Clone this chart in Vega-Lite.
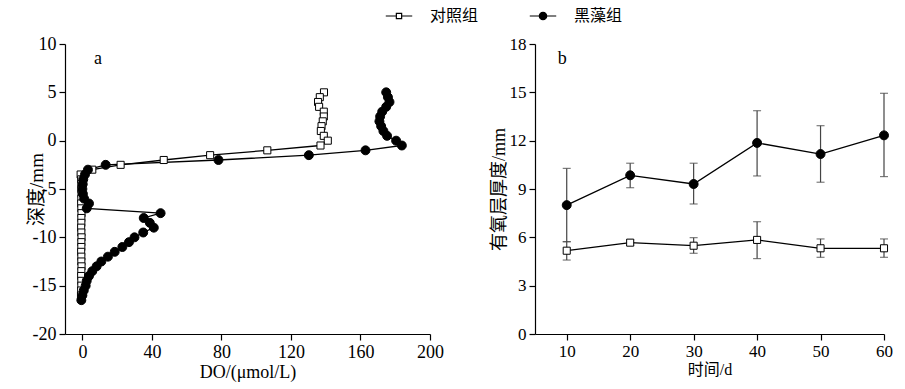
{
  "$schema": "https://vega.github.io/schema/vega-lite/v6.json",
  "background": "white",
  "padding": {"left": 27, "top": 2, "right": 5, "bottom": 5},
  "config": {
    "view": {"stroke": null},
    "font": "Liberation Serif",
    "axis": {
      "domainColor": "black", "domainWidth": 1.2, "tickColor": "black", "tickWidth": 1.2,
      "labelColor": "black", "titleColor": "black", "labelFont": "Liberation Serif",
      "labelFontSize": 17, "titleFont": "Liberation Serif, Noto Sans CJK SC",
      "titleFontSize": 17, "titleFontWeight": "normal", "grid": false, "labelPadding": 3,
      "labelOverlap": false, "labelFlush": false, "tickSize": 6
    }
  },
  "datasets": {
    "profile": [
      {"group": "对照组", "depth": 5, "do": 139.0},
      {"group": "对照组", "depth": 4.5, "do": 136.6},
      {"group": "对照组", "depth": 4, "do": 135.6},
      {"group": "对照组", "depth": 3.5, "do": 136.2},
      {"group": "对照组", "depth": 3, "do": 138.9},
      {"group": "对照组", "depth": 2.5, "do": 138.9},
      {"group": "对照组", "depth": 2, "do": 138.3},
      {"group": "对照组", "depth": 1.5, "do": 137.6},
      {"group": "对照组", "depth": 1, "do": 137.2},
      {"group": "对照组", "depth": 0.5, "do": 138.9},
      {"group": "对照组", "depth": 0, "do": 141.2},
      {"group": "对照组", "depth": -0.5, "do": 137.0},
      {"group": "对照组", "depth": -1, "do": 106.4},
      {"group": "对照组", "depth": -1.5, "do": 73.5},
      {"group": "对照组", "depth": -2, "do": 46.8},
      {"group": "对照组", "depth": -2.5, "do": 22.0},
      {"group": "对照组", "depth": -3, "do": 5.7},
      {"group": "对照组", "depth": -3.5, "do": -1.0},
      {"group": "对照组", "depth": -4, "do": -0.7},
      {"group": "对照组", "depth": -4.5, "do": -0.6},
      {"group": "对照组", "depth": -5, "do": -0.6},
      {"group": "对照组", "depth": -5.5, "do": -0.5},
      {"group": "对照组", "depth": -6, "do": -0.6},
      {"group": "对照组", "depth": -6.5, "do": -0.7},
      {"group": "对照组", "depth": -7, "do": -0.6},
      {"group": "对照组", "depth": -7.5, "do": -0.5},
      {"group": "对照组", "depth": -8, "do": -0.6},
      {"group": "对照组", "depth": -8.5, "do": -0.6},
      {"group": "对照组", "depth": -9, "do": -0.7},
      {"group": "对照组", "depth": -9.5, "do": -0.6},
      {"group": "对照组", "depth": -10, "do": -0.5},
      {"group": "对照组", "depth": -10.5, "do": -0.6},
      {"group": "对照组", "depth": -11, "do": -0.6},
      {"group": "对照组", "depth": -11.5, "do": -0.7},
      {"group": "对照组", "depth": -12, "do": -0.6},
      {"group": "对照组", "depth": -12.5, "do": -0.6},
      {"group": "对照组", "depth": -13, "do": -0.5},
      {"group": "对照组", "depth": -13.5, "do": -0.6},
      {"group": "对照组", "depth": -14, "do": -0.7},
      {"group": "对照组", "depth": -14.5, "do": -0.6},
      {"group": "对照组", "depth": -15, "do": -0.6},
      {"group": "对照组", "depth": -15.5, "do": -0.7},
      {"group": "对照组", "depth": -16, "do": -0.8},
      {"group": "黑藻组", "depth": 5, "do": 174.8},
      {"group": "黑藻组", "depth": 4.5, "do": 175.8},
      {"group": "黑藻组", "depth": 4, "do": 176.7},
      {"group": "黑藻组", "depth": 3.5, "do": 174.8},
      {"group": "黑藻组", "depth": 3, "do": 172.5},
      {"group": "黑藻组", "depth": 2.5, "do": 171.3},
      {"group": "黑藻组", "depth": 2, "do": 170.9},
      {"group": "黑藻组", "depth": 1.5, "do": 171.9},
      {"group": "黑藻组", "depth": 1, "do": 173.2},
      {"group": "黑藻组", "depth": 0.5, "do": 175.3},
      {"group": "黑藻组", "depth": 0, "do": 180.5},
      {"group": "黑藻组", "depth": -0.5, "do": 183.8},
      {"group": "黑藻组", "depth": -1, "do": 162.9},
      {"group": "黑藻组", "depth": -1.5, "do": 130.3},
      {"group": "黑藻组", "depth": -2, "do": 78.3},
      {"group": "黑藻组", "depth": -2.5, "do": 13.4},
      {"group": "黑藻组", "depth": -3, "do": 3.2},
      {"group": "黑藻组", "depth": -3.5, "do": 1.5},
      {"group": "黑藻组", "depth": -4, "do": 0.5},
      {"group": "黑藻组", "depth": -4.5, "do": 0.2},
      {"group": "黑藻组", "depth": -5, "do": 0.0},
      {"group": "黑藻组", "depth": -5.5, "do": 0.3},
      {"group": "黑藻组", "depth": -6, "do": 1.0},
      {"group": "黑藻组", "depth": -6.5, "do": 3.8},
      {"group": "黑藻组", "depth": -7, "do": 2.5},
      {"group": "黑藻组", "depth": -7.5, "do": 45.0},
      {"group": "黑藻组", "depth": -8, "do": 35.3},
      {"group": "黑藻组", "depth": -8.5, "do": 38.8},
      {"group": "黑藻组", "depth": -9, "do": 41.1},
      {"group": "黑藻组", "depth": -9.5, "do": 35.0},
      {"group": "黑藻组", "depth": -10, "do": 30.0},
      {"group": "黑藻组", "depth": -10.5, "do": 26.8},
      {"group": "黑藻组", "depth": -11, "do": 23.0},
      {"group": "黑藻组", "depth": -11.5, "do": 18.6},
      {"group": "黑藻组", "depth": -12, "do": 14.7},
      {"group": "黑藻组", "depth": -12.5, "do": 10.9},
      {"group": "黑藻组", "depth": -13, "do": 8.2},
      {"group": "黑藻组", "depth": -13.5, "do": 5.7},
      {"group": "黑藻组", "depth": -14, "do": 3.8},
      {"group": "黑藻组", "depth": -14.5, "do": 2.5},
      {"group": "黑藻组", "depth": -15, "do": 1.9},
      {"group": "黑藻组", "depth": -15.5, "do": 0.8},
      {"group": "黑藻组", "depth": -16, "do": 0.0},
      {"group": "黑藻组", "depth": -16.5, "do": -0.6}
    ],
    "thickness": [
      {"group": "对照组", "day": 10, "mean": 5.17, "lo": 4.59, "hi": 5.73},
      {"group": "对照组", "day": 20, "mean": 5.67, "lo": 5.5, "hi": 5.85},
      {"group": "对照组", "day": 30, "mean": 5.48, "lo": 5.01, "hi": 5.98},
      {"group": "对照组", "day": 40, "mean": 5.84, "lo": 4.68, "hi": 6.97},
      {"group": "对照组", "day": 50, "mean": 5.32, "lo": 4.76, "hi": 5.9},
      {"group": "对照组", "day": 60, "mean": 5.32, "lo": 4.76, "hi": 5.9},
      {"group": "黑藻组", "day": 10, "mean": 8.0, "lo": 5.73, "hi": 10.28},
      {"group": "黑藻组", "day": 20, "mean": 9.85, "lo": 9.08, "hi": 10.6},
      {"group": "黑藻组", "day": 30, "mean": 9.31, "lo": 8.07, "hi": 10.6},
      {"group": "黑藻组", "day": 40, "mean": 11.86, "lo": 9.81, "hi": 13.86},
      {"group": "黑藻组", "day": 50, "mean": 11.17, "lo": 9.42, "hi": 12.93},
      {"group": "黑藻组", "day": 60, "mean": 12.33, "lo": 9.77, "hi": 14.94}
    ]
  },
  "spacing": 46,
  "hconcat": [
    {
      "width": 365, "height": 290,
      "layer": [
        {
          "data": {"name": "profile"},
          "mark": {"type": "line", "color": "black", "strokeWidth": 1.3},
          "encoding": {
            "x": {"field": "do", "type": "quantitative",
              "scale": {"domain": [-10, 200], "nice": false, "zero": false},
              "axis": {"title": "DO/(μmol/L)", "titleFontSize": 18, "labelFontSize": 18,
                "values": [0,10,20,30,40,50,60,70,80,90,100,110,120,130,140,150,160,170,180,190,200],
                "labelExpr": "datum.value % 20 === 0 ? '' + datum.value : ''",
                "labelOverlap": false,
                "tickSize": {"condition": {"test": "datum.value % 20 !== 0", "value": 3}, "value": 6},
                "titlePadding": 2}},
            "y": {"field": "depth", "type": "quantitative",
              "scale": {"domain": [-20, 10], "nice": false, "zero": false},
              "axis": {"title": "深度/mm", "titleFontSize": 19, "labelFontSize": 18,
                "values": [-20,-17.5,-15,-12.5,-10,-7.5,-5,-2.5,0,2.5,5,7.5,10],
                "labelExpr": "datum.value % 5 === 0 ? '' + datum.value : ''",
                "labelOverlap": false,
                "tickSize": {"condition": {"test": "datum.value % 5 !== 0", "value": 3}, "value": 6},
                "titlePadding": -14}},
            "detail": {"field": "group"},
            "order": {"field": "depth", "sort": "descending"}
          }
        },
        {
          "data": {"name": "profile"},
          "transform": [{"filter": "datum.group === '对照组'"}],
          "mark": {"type": "point", "shape": "square", "filled": true, "fill": "white", "stroke": "black", "strokeWidth": 1, "opacity": 1, "size": 50},
          "encoding": {
            "x": {"field": "do", "type": "quantitative"},
            "y": {"field": "depth", "type": "quantitative"}
          }
        },
        {
          "data": {"name": "profile"},
          "transform": [{"filter": "datum.group === '黑藻组'"}],
          "mark": {"type": "point", "shape": "circle", "filled": true, "fill": "black", "stroke": "black", "strokeWidth": 1, "opacity": 1, "size": 80},
          "encoding": {
            "x": {"field": "do", "type": "quantitative"},
            "y": {"field": "depth", "type": "quantitative"}
          }
        },
        {
          "data": {"name": "thickness"},
          "transform": [{"filter": "datum.day < 0"}],
          "mark": {"type": "point", "filled": true, "strokeWidth": 1.2, "opacity": 1},
          "encoding": {
            "fill": {"field": "group", "type": "nominal",
              "scale": {"domain": ["对照组", "黑藻组"], "range": ["white", "black"]},
              "legend": {"title": null, "orient": "none", "legendX": 320, "legendY": -42, "direction": "horizontal",
                "symbolSize": 700, "symbolStrokeColor": "black", "symbolStrokeWidth": 1.2,
                "labelFont": "Liberation Serif, Noto Sans CJK SC", "labelFontSize": 16,
                "labelColor": "black", "columnPadding": 48, "labelOffset": 17}},
            "stroke": {"field": "group", "type": "nominal",
              "scale": {"domain": ["对照组", "黑藻组"], "range": ["black", "black"]},
              "legend": {"title": null, "orient": "none", "legendX": 320, "legendY": -42, "direction": "horizontal",
                "symbolSize": 700, "symbolStrokeColor": "black", "symbolStrokeWidth": 1.2,
                "labelFont": "Liberation Serif, Noto Sans CJK SC", "labelFontSize": 16,
                "labelColor": "black", "columnPadding": 48, "labelOffset": 17}},
            "size": {"field": "group", "type": "nominal",
              "scale": {"domain": ["对照组", "黑藻组"], "range": [700, 700]},
              "legend": {"title": null, "orient": "none", "legendX": 320, "legendY": -42, "direction": "horizontal",
                "symbolSize": 700, "symbolStrokeColor": "black", "symbolStrokeWidth": 1.2,
                "labelFont": "Liberation Serif, Noto Sans CJK SC", "labelFontSize": 16,
                "labelColor": "black", "columnPadding": 48, "labelOffset": 17}},
            "shape": {"field": "group", "type": "nominal",
              "scale": {"domain": ["对照组", "黑藻组"],
                "range": ["M-1,0H-0.2M0.2,0H1M-0.2,-0.2H0.2V0.2H-0.2Z", "M-1,0H1M-0.28,0A0.28,0.28 0 1,1 0.28,0A0.28,0.28 0 1,1 -0.28,0Z"]},
              "legend": {"title": null, "orient": "none", "legendX": 320, "legendY": -42, "direction": "horizontal",
                "symbolSize": 700, "symbolStrokeColor": "black", "symbolStrokeWidth": 1.2,
                "labelFont": "Liberation Serif, Noto Sans CJK SC", "labelFontSize": 16,
                "labelColor": "black", "columnPadding": 48, "labelOffset": 17}}
          }
        },
        {
          "data": {"values": [{}]},
          "mark": {"type": "text", "font": "Liberation Serif", "fontSize": 18, "color": "black"},
          "encoding": {"x": {"datum": 9}, "y": {"datum": 8.4}, "text": {"value": "a"}}
        }
      ]
    },
    {
      "width": 349, "height": 290,
      "layer": [
        {
          "data": {"name": "thickness"},
          "mark": {"type": "errorbar", "color": "#444", "ticks": {"size": 8, "color": "#444"}, "thickness": 1.2},
          "encoding": {
            "x": {"field": "day", "type": "quantitative",
              "scale": {"domain": [5, 60], "nice": false, "zero": false},
              "axis": {"title": "时间/d", "titleFontSize": 16,
                "values": [10,15,20,25,30,35,40,45,50,55,60],
                "labelExpr": "datum.value % 10 === 0 ? '' + datum.value : ''",
                "labelOverlap": false,
                "tickSize": {"condition": {"test": "datum.value % 10 !== 0", "value": 3}, "value": 6},
                "titlePadding": 2}},
            "y": {"field": "lo", "type": "quantitative",
              "scale": {"domain": [0, 18], "nice": false},
              "axis": {"title": "有氧层厚度/mm", "titleFontSize": 18,
                "values": [0,1.5,3,4.5,6,7.5,9,10.5,12,13.5,15,16.5,18],
                "labelExpr": "datum.value % 3 === 0 ? '' + datum.value : ''",
                "labelOverlap": false,
                "tickSize": {"condition": {"test": "datum.value % 3 !== 0", "value": 3}, "value": 6},
                "titlePadding": 1}},
            "y2": {"field": "hi"},
            "detail": {"field": "group"}
          }
        },
        {
          "data": {"name": "thickness"},
          "mark": {"type": "line", "color": "black", "strokeWidth": 1.3},
          "encoding": {
            "x": {"field": "day", "type": "quantitative"},
            "y": {"field": "mean", "type": "quantitative"},
            "detail": {"field": "group"}
          }
        },
        {
          "data": {"name": "thickness"},
          "transform": [{"filter": "datum.group === '对照组'"}],
          "mark": {"type": "point", "shape": "square", "filled": true, "fill": "white", "stroke": "black", "strokeWidth": 1, "opacity": 1, "size": 50},
          "encoding": {
            "x": {"field": "day", "type": "quantitative"},
            "y": {"field": "mean", "type": "quantitative"}
          }
        },
        {
          "data": {"name": "thickness"},
          "transform": [{"filter": "datum.group === '黑藻组'"}],
          "mark": {"type": "point", "shape": "circle", "filled": true, "fill": "black", "stroke": "black", "strokeWidth": 1, "opacity": 1, "size": 80},
          "encoding": {
            "x": {"field": "day", "type": "quantitative"},
            "y": {"field": "mean", "type": "quantitative"}
          }
        },
        {
          "data": {"values": [{}]},
          "mark": {"type": "text", "font": "Liberation Serif", "fontSize": 18, "color": "black"},
          "encoding": {"x": {"datum": 9.3}, "y": {"datum": 17.1}, "text": {"value": "b"}}
        }
      ]
    }
  ]
}
